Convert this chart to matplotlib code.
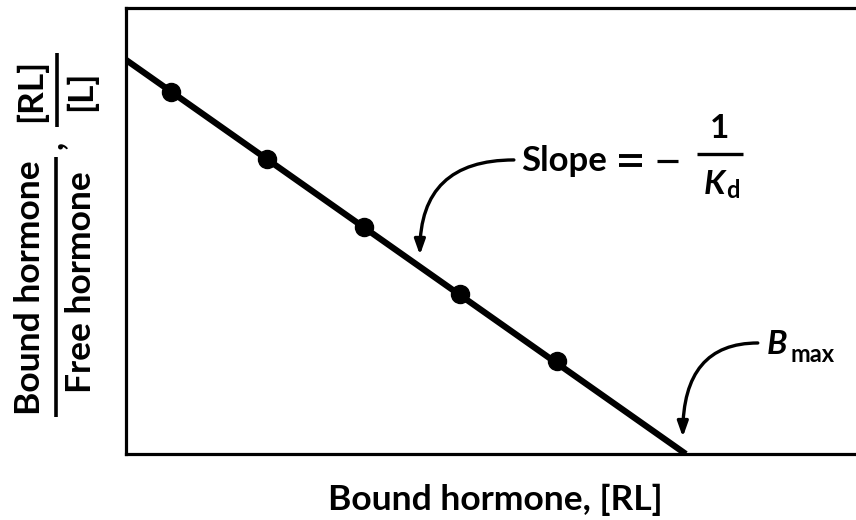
"""
Scatchard plot
"""

import numpy as np
import matplotlib.pyplot as plt
from matplotlib.lines import Line2D

plt.rcParams['font.family'] = ['Lato', 'DejaVu Sans']
plt.rcParams['font.weight'] = 'bold'

# data
bound = [0.80, 2.52, 4.25, 5.96, 7.70]      # [RL]
ratio = [9.19, 7.49, 5.76, 4.06, 2.36]      # [RL]/[L]
kd = 1.0
bmax = 10.0

W, H = 856, 520
fig = plt.figure(figsize=(W / 100, H / 100), dpi=100)
ax = fig.add_axes([126 / W, 1 - 454 / H, (W - 126) / W, (454 - 7.5) / H])

x = np.array([0, bmax])
ax.plot(x, (bmax - x) / kd, color='black', lw=4.5, solid_capstyle='butt')
ax.plot(bound, ratio, 'o', color='black', ms=13)

ax.set_xlim(0, 13.04)
ax.set_ylim(0, 11.33)
ax.set_xticks([])
ax.set_yticks([])
ax.spines['right'].set_visible(False)
for s in ['left', 'top', 'bottom']:
    ax.spines[s].set_linewidth(2.3)


def px(xp, yp):
    return xp / W, 1 - yp / H


def ftext(xp, yp, s, **kw):
    kw.setdefault('fontsize', 25.5)
    kw.setdefault('ha', 'center')
    kw.setdefault('va', 'center')
    fig.text(*px(xp, yp), s, **kw)


def fline(x0, y0, x1, y1, lw=2.2):
    fig.add_artist(Line2D([x0 / W, x1 / W], [1 - y0 / H, 1 - y1 / H],
                          transform=fig.transFigure, color='black', lw=lw,
                          solid_capstyle='butt'))


# y label: Bound hormone / Free hormone , [RL]/[L]
ftext(30, 288, 'Bound hormone', rotation=90)
fline(56, 157, 56, 417, lw=2.6)
ftext(81, 282, 'Free hormone', rotation=90)
ftext(52, 145, ',', rotation=90)
ftext(31, 90, '[RL]', rotation=90)
fline(57, 53, 57, 127, lw=2.6)
ftext(81, 91, '[L]', rotation=90)

# x label
ftext(495, 500, 'Bound hormone, [RL]')

# slope annotation
ftext(564, 161, 'Slope', fontsize=25)
fline(619, 156, 642, 156, lw=2.8)
fline(619, 165, 642, 165, lw=2.8)
fline(657, 161, 678, 161, lw=2.3)
ftext(720, 129, '1', fontsize=24)
fline(697, 154, 743, 154, lw=2.4)
ftext(714, 184, 'K', fontsize=24, style='italic')
ftext(733, 191, 'd', fontsize=17)

arrow = dict(arrowstyle='-|>,head_length=0.9,head_width=0.32',
             connectionstyle='angle3,angleA=0,angleB=90',
             color='black', lw=2.4, shrinkA=0, shrinkB=0)

ax.annotate('', xy=((420 - 126) / 56, (454 - 255) / 39.4),
            xytext=((514 - 126) / 56, (454 - 160) / 39.4),
            arrowprops=arrow)

# Bmax annotation
ftext(777, 345, 'B', fontsize=24, style='italic')
ftext(813, 354, 'max', fontsize=17)
ax.annotate('', xy=((683 - 126) / 56, (454 - 437) / 39.4),
            xytext=((758 - 126) / 56, (454 - 343) / 39.4),
            arrowprops=arrow)

plt.savefig('out.png', dpi=100)
